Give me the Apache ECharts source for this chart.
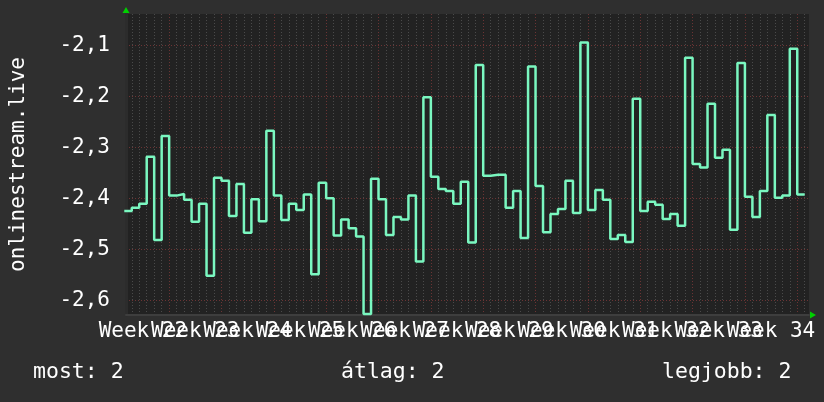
<!DOCTYPE html>
<html>
<head>
<meta charset="utf-8">
<script src="https://cdn.jsdelivr.net/npm/echarts@6/dist/echarts.min.js"></script>
<style>
html,body{margin:0;padding:0;background:#2f2f2f;}
#c{width:824px;height:402px;}
</style>
</head>
<body>
<div id="c"></div>
<script>
// daily values (one per day), weeks 22..34
const values = [
  -2.425,-2.419,-2.411,-2.319,-2.482,-2.278,-2.395,-2.392,-2.403,-2.446,
  -2.411,-2.552,-2.360,-2.366,-2.435,-2.372,-2.468,-2.402,-2.445,-2.268,
  -2.395,-2.443,-2.411,-2.423,-2.393,-2.549,-2.370,-2.400,-2.473,-2.442,
  -2.459,-2.475,-2.627,-2.362,-2.402,-2.472,-2.437,-2.442,-2.395,-2.524,
  -2.202,-2.358,-2.382,-2.386,-2.411,-2.368,-2.487,-2.139,-2.356,-2.354,
  -2.354,-2.419,-2.386,-2.478,-2.142,-2.376,-2.467,-2.431,-2.421,-2.366,
  -2.429,-2.095,-2.423,-2.384,-2.403,-2.480,-2.472,-2.486,-2.205,-2.425,
  -2.407,-2.413,-2.441,-2.431,-2.454,-2.125,-2.333,-2.340,-2.215,-2.321,
  -2.305,-2.462,-2.135,-2.397,-2.437,-2.386,-2.237,-2.399,-2.395,-2.107,
  -2.393
];
const firstWeek = 22;
const firstDay = -6;          // day index (relative to start of Week 23) of first value
const yTitle = 'onlinestream.live';
const footer = ['most: 2', 'átlag: 2', 'legjobb: 2'];

const FONT = 'DejaVu Sans Mono';
const dayMin = -5.77, dayMax = 85.57;
const yMin = -2.629, yMax = -2.039;

const seriesData = values.map((v, i) => [firstDay + i, v]);
seriesData.push([firstDay + values.length, values[values.length - 1]]);

const chart = echarts.init(document.getElementById('c'), null, {renderer: 'canvas'});
chart.setOption({
  backgroundColor: '#2f2f2f',
  animation: false,
  grid: {left: 124, top: 14, width: 685, height: 301, show: true, backgroundColor: '#222222', borderWidth: 0},
  xAxis: [
    {
      type: 'value', min: dayMin, max: dayMax, splitNumber: 91, minInterval: 1, maxInterval: 1,
      axisLine: {show: true, onZero: false, lineStyle: {color: '#3e3e3e', width: 2}},
      axisTick: {show: false}, axisLabel: {show: false},
      splitLine: {show: true, showMinLine: false, showMaxLine: false, lineStyle: {color: '#4a4a4a', width: 1, type: [1, 2]}}
    },
    {
      type: 'value', position: 'bottom', min: dayMin / 7, max: dayMax / 7, splitNumber: 13, minInterval: 1, maxInterval: 1,
      axisLine: {show: true, onZero: false, symbol: ['none', 'triangle'], symbolSize: [7, 6], symbolOffset: [0, 4],
        lineStyle: {color: '#00d000', opacity: 0}},
      axisTick: {show: false},
      axisLabel: {show: true, showMinLabel: false, showMaxLabel: false, color: '#ffffff',
        fontFamily: FONT, fontSize: 21, margin: 6, padding: [0, 52.5, 0, 0],
        formatter: v => 'Week ' + (firstWeek + Math.round(v))},
      splitLine: {show: true, showMinLine: false, showMaxLine: false, lineStyle: {color: '#6b3434', width: 1, type: [1, 2]}}
    }
  ],
  yAxis: [
    {
      type: 'value', min: yMin, max: yMax, splitNumber: 5, minInterval: 0.1, maxInterval: 0.1,
      axisLine: {show: true, onZero: false, symbol: ['none', 'triangle'], symbolSize: [7, 6], symbolOffset: [0, 4],
        lineStyle: {color: '#00d000', opacity: 0}},
      axisTick: {show: false},
      axisLabel: {show: true, showMinLabel: false, showMaxLabel: false, color: '#ffffff',
        fontFamily: FONT, fontSize: 21, margin: 16,
        formatter: v => v.toFixed(1).replace('.', ',')},
      splitLine: {show: true, showMinLine: false, showMaxLine: false, lineStyle: {color: '#6b3434', width: 1, type: [1, 2]}},
      name: yTitle, nameLocation: 'middle', nameRotate: 90, nameGap: 97,
      nameTextStyle: {color: '#ffffff', fontFamily: FONT, fontSize: 21}
    },
    {
      type: 'value', position: 'left', min: yMin, max: yMax, splitNumber: 5, minInterval: 0.1, maxInterval: 0.1,
      axisLine: {show: true, onZero: false, lineStyle: {color: '#2c2c2c', width: 3}},
      axisTick: {show: false}, axisLabel: {show: false}, splitLine: {show: false}
    }
  ],
  graphic: [
    {type: 'text', left: 33, top: 361, style: {text: footer[0], fill: '#ffffff', font: '21.5px "DejaVu Sans Mono"'}},
    {type: 'text', left: 341, top: 361, style: {text: footer[1], fill: '#ffffff', font: '21.5px "DejaVu Sans Mono"'}},
    {type: 'text', left: 662, top: 361, style: {text: footer[2], fill: '#ffffff', font: '21.5px "DejaVu Sans Mono"'}}
  ],
  series: [{
    type: 'line', xAxisIndex: 0, yAxisIndex: 0, step: 'end', showSymbol: false,
    data: seriesData, clip: true,
    lineStyle: {color: '#7af7c0', width: 2.5}
  }]
});
</script>
</body>
</html>
